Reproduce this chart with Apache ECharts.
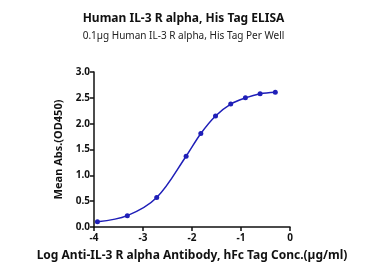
<!DOCTYPE html>
<html>
<head>
<meta charset="utf-8">
<script src="https://cdn.jsdelivr.net/npm/echarts@6/dist/echarts.min.js"></script>
<style>html,body{margin:0;padding:0;background:#fff;}#c{width:367px;height:273px;}</style>
</head>
<body>
<div id="c"></div>
<script>
var titleText = 'Human IL-3 R alpha, His Tag ELISA';
var subtitleText = '0.1\u00b5g Human IL-3 R alpha, His Tag Per Well';
var xName = 'Log Anti-IL-3 R alpha Antibody, hFc Tag Conc.(\u00b5g/ml)';
var yName = 'Mean Abs.(OD450)';
var logConc = [-3.93, -3.32, -2.72, -2.12, -1.82, -1.52, -1.21, -0.91, -0.61, -0.30];
var od450 = [0.10, 0.22, 0.57, 1.37, 1.81, 2.15, 2.38, 2.50, 2.58, 2.61];
var color = '#1f1fb8';
var font = 'Noto Sans';

var chart = echarts.init(document.getElementById('c'));
chart.setOption({
  animation: false,
  backgroundColor: '#fff',
  title: [
    {text: titleText, left: 'center', top: 8, textStyle: {fontFamily: font, fontSize: 12, fontWeight: 'bold', color: '#111'}},
    {text: subtitleText, left: 'center', top: 26, textStyle: {fontFamily: font, fontSize: 10, fontWeight: 'normal', color: '#222'}}
  ],
  grid: {left: 94, right: 77, top: 72, bottom: 46},
  xAxis: {
    type: 'value', min: -4, max: 0, interval: 1,
    name: xName, nameLocation: 'middle', nameGap: 23,
    nameTextStyle: {fontFamily: font, fontSize: 12, fontWeight: 'bold', color: '#111'},
    axisLine: {onZero: false, lineStyle: {color: '#111', width: 1.5}},
    axisTick: {lineStyle: {color: '#111', width: 1.5}, length: 4},
    axisLabel: {fontFamily: font, fontSize: 10, fontWeight: 'bold', color: '#111', margin: 6},
    splitLine: {show: false}
  },
  yAxis: {
    type: 'value', min: 0, max: 3, interval: 0.5,
    name: yName, nameLocation: 'middle', nameGap: 26,
    nameTextStyle: {fontFamily: font, fontSize: 11, fontWeight: 'bold', color: '#111'},
    axisLine: {show: true, onZero: false, lineStyle: {color: '#111', width: 1.5}},
    axisTick: {show: true, lineStyle: {color: '#111', width: 1.5}, length: 4},
    axisLabel: {fontFamily: font, fontSize: 10, fontWeight: 'bold', color: '#111', margin: 4,
      formatter: function (v) { return v.toFixed(1); }},
    splitLine: {show: false}
  },
  series: [{
    type: 'line',
    data: logConc.map(function (x, i) { return [x, od450[i]]; }),
    smooth: 0.35,
    symbol: 'circle', symbolSize: 5,
    lineStyle: {color: color, width: 1.5},
    itemStyle: {color: color}
  }]
});
</script>
</body>
</html>
